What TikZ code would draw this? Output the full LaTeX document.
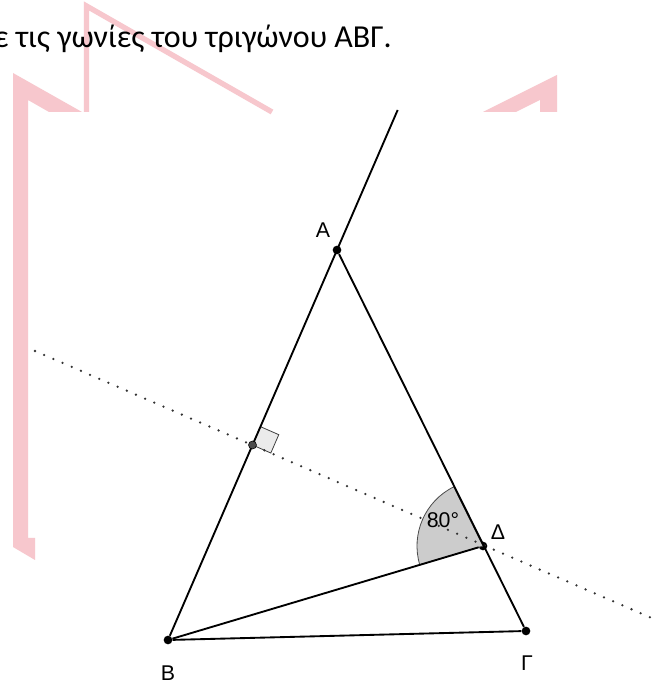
\documentclass[tikz,border=0pt]{standalone}
\usepackage{fontspec}
\setmainfont{Carlito}
\newfontfamily\geofont{Liberation Sans}
\usetikzlibrary{calc}
\definecolor{wmpink}{RGB}{247,199,205}
\definecolor{sectorgray}{RGB}{204,204,204}

\begin{document}
\begin{tikzpicture}[
  x=0.75pt, y=0.75pt,
  geolabel/.style={font=\geofont\fontsize{16}{19}\selectfont, inner sep=0pt},
  ptnode/.style={circle, fill=black, inner sep=0pt, minimum size=6.5pt},
  midnode/.style={circle, fill=black!70, draw=black, line width=0.4pt, inner sep=0pt, minimum size=6pt},
  side/.style={draw=black, line width=1.4pt},
  bisector/.style={draw=black!80, line width=1.9pt, dash pattern=on 0pt off 7.5pt, line cap=round},
  anglefill/.style={fill=sectorgray, draw=black!70, line width=0.6pt},
  rightmark/.style={fill=black!8, draw=black!75, line width=0.6pt},
  wmark/.style={fill=wmpink, draw=none}
]
  \useasboundingbox (0,0) rectangle (654,686);
  \clip (0,0) rectangle (654,686);
  \fill[white] (0,0) rectangle (654,686);

  % watermark behind the figure
  \path[wmark] (13,613) -- (82,574) -- (49,574) -- (28,586) -- (28,148) -- (35,148)
    -- (35,126) -- (13,139) -- cycle;
  \path[wmark] (483,574) -- (557,611) -- (557,574) -- (540,574) -- (540,586) -- (516,574) -- cycle;
  \draw[wmpink, line width=4pt, line join=miter] (86.5,574) -- (86.5,680) -- (272,574);

  \node[anchor=base east, inner sep=0pt, font=\fontsize{24}{28}\selectfont] (title) at (392,638)
    {ε τις γωνίες του τριγώνου ΑΒΓ.};

  \node[ptnode] (A) at (337,436) {};
  \node[ptnode] (B) at (168,46) {};
  \node[ptnode] (G) at (526,55) {};
  \node[ptnode] (D) at (483,140) {};
  \coordinate (Atop) at ($(B)!1.359!(A)$);
  \coordinate (bisL) at (35,335);
  \coordinate (bisR) at (654,67);
  \coordinate (M) at ($(A)!0.5!(B)$);

  \filldraw[anglefill] (D.center) -- ++(116.3:66) arc[start angle=116.3, end angle=196.6, radius=66] -- cycle;
  \coordinate (ra1) at ($(M)!15pt!(A)$);
  \coordinate (ra2) at ($(M)!15pt!(D)$);
  \filldraw[rightmark] (M) -- (ra1) -- ($(ra1)+(ra2)-(M)$) -- (ra2) -- cycle;

  \draw[bisector] (bisL) -- (bisR);
  \draw[side] (B) -- (Atop);
  \draw[side] (A) -- (G);
  \draw[side] (B) -- (G);
  \draw[side] (B) -- (D);
  \node[midnode] (Mdot) at (M) {};

  \node[geolabel] (lblA) at (323,456) {Α};
  \node[geolabel] (lblB) at (168,13) {Β};
  \node[geolabel] (lblG) at (527,23) {Γ};
  \node[geolabel] (lblD) at (498,154) {Δ};
  \node[geolabel] (lblang) at (443,166) {80°};
\end{tikzpicture}
\end{document}
